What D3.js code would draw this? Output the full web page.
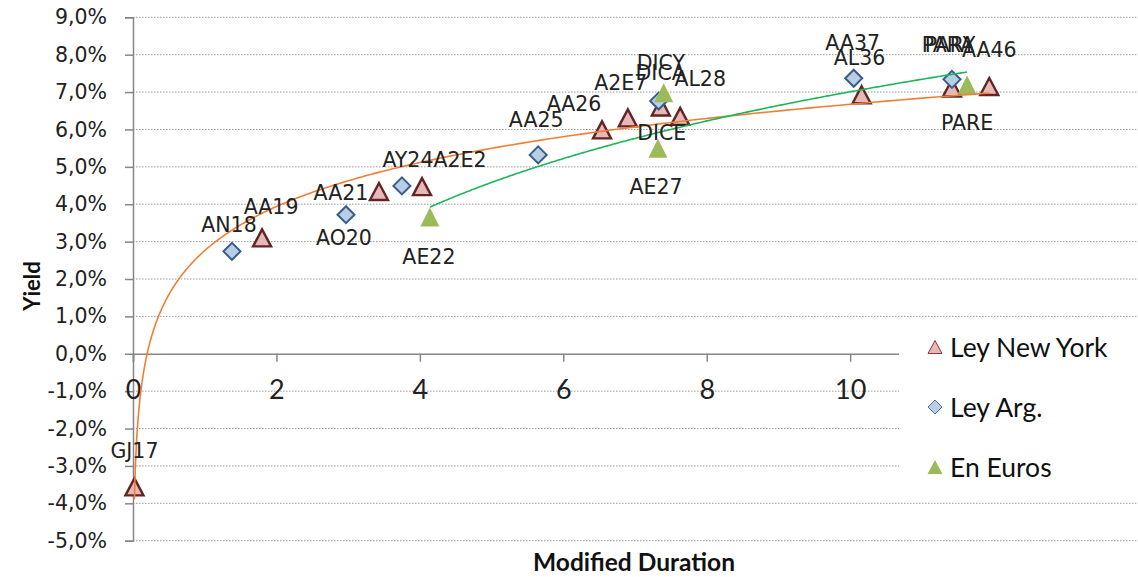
<!DOCTYPE html>
<html>
<head>
<meta charset="utf-8">
<script src="https://cdn.jsdelivr.net/npm/d3@7"></script>
<style>
  html, body { margin: 0; padding: 0; background: #fff; }
  svg { display: block; }
</style>
</head>
<body>
<div id="chart"></div>
<script>
// bonds: [name, modified duration, yield %]
var leyNewYork = [
  ["GJ17", 0.02, -3.56], ["AA19", 1.80, 3.10], ["AA21", 3.43, 4.34], ["A2E2", 4.03, 4.47],
  ["AA26", 6.54, 5.99], ["A2E7", 6.90, 6.31], ["DICY", 7.36, 6.60], ["AL28", 7.63, 6.35],
  ["AL36", 10.16, 6.93], ["PARY", 11.42, 7.11], ["AA46", 11.94, 7.15]
];
var leyArg = [
  ["AN18", 1.38, 2.74], ["AO20", 2.97, 3.72], ["AY24", 3.75, 4.49], ["AA25", 5.65, 5.32],
  ["DICA", 7.33, 6.76], ["AA37", 10.05, 7.37], ["PARA", 11.42, 7.34]
];
var enEuros = [
  ["AE22", 4.14, 3.66], ["AE27", 7.32, 5.50], ["DICE", 7.40, 6.98], ["PARE", 11.63, 7.19]
];
var yTicks = [-5, -4, -3, -2, -1, 0, 1, 2, 3, 4, 5, 6, 7, 8, 9];
var xTicks = [0, 2, 4, 6, 8, 10];
var legendNames = ["Ley New York", "Ley Arg.", "En Euros"];

// where each data label sits relative to its marker (px)
var labelOffset = {
  GJ17: [0, -36], AA19: [9, -31], AA21: [-38, 1], A2E2: [38, -27], AA26: [-28, -26],
  A2E7: [-7, -35], DICY: [0, -44], AL28: [20, -37], AL36: [-2, -37], PARY: [-2, -43],
  AA46: [0, -36], AN18: [-3, -26], AO20: [-2, 23], AY24: [6, -26], AA25: [-2, -35],
  DICA: [2, -28], AA37: [-1, -35], PARA: [-4, -34], AE22: [-1, 40], AE27: [-2, 39],
  DICE: [-2, 40], PARE: [0, 38]
};

var W = 1138, H = 577;
var x = d3.scaleLinear().domain([0, 14]).range([133, 1137]);
var y = d3.scaleLinear().domain([-5, 9]).range([540.7, 17.3]);

var svg = d3.select("#chart").append("svg").attr("width", W).attr("height", H);

var tri = function (w, h) {
  return "M0," + (-h / 2) + "L" + (w / 2) + "," + (h / 2) + "L" + (-w / 2) + "," + (h / 2) + "Z";
};
var dia = function (s) {
  return "M0," + (-s) + "L" + s + ",0L0," + s + "L" + (-s) + ",0Z";
};

var styles = [
  {d: tri(18, 17), fill: "#e6b9b8", stroke: "#632523", sw: 2.4, ld: tri(14, 13), lstroke: "#943634", lsw: 1},
  {d: dia(8.5), fill: "#b9cde5", stroke: "#385d8a", sw: 2, ld: dia(7), lstroke: "#4f6f9f", lsw: 1},
  {d: tri(19, 19), fill: "#9bbb59", stroke: "none", sw: 0, ld: tri(15, 14), lstroke: "none", lsw: 0}
];
var series = [leyNewYork, leyArg, enEuros];

// gridlines
svg.append("g").selectAll("line").data(yTicks.filter(function (t) { return t !== 0; })).enter()
  .append("line")
  .attr("x1", x(0)).attr("x2", x(14))
  .attr("y1", function (t) { return y(t); }).attr("y2", function (t) { return y(t); })
  .attr("stroke", "#9a9a9a").attr("stroke-width", 1).attr("stroke-dasharray", "1.5,1.5");

// y axis
var yAxis = svg.append("g").attr("transform", "translate(" + x(0) + ",0)")
  .call(d3.axisLeft(y).tickValues(yTicks).tickSize(8).tickPadding(18)
    .tickFormat(function (t) { return d3.format(".1f")(t).replace("−", "-").replace(".", ",") + "%"; }));
yAxis.select(".domain").attr("stroke", "#868686").attr("stroke-width", 1.5);
yAxis.selectAll(".tick line").attr("stroke", "#868686").attr("stroke-width", 1.5);
yAxis.selectAll("text").attr("font-family", "DejaVu Sans").attr("font-size", 20.5).attr("fill", "#222");

// x axis at y = 0 (runs the full plot width, the legend hides its right end)
var xAxis = svg.append("g").attr("transform", "translate(0," + y(0) + ")")
  .call(d3.axisBottom(x).tickValues(xTicks).tickSize(8).tickPadding(0).tickFormat(d3.format("d")));
xAxis.select(".domain").attr("stroke", "#868686").attr("stroke-width", 1.5);
xAxis.selectAll(".tick line").attr("stroke", "#868686").attr("stroke-width", 1.5);
xAxis.selectAll("text").attr("font-family", "Lato").attr("font-size", 27).attr("fill", "#222")
  .attr("dy", null).attr("y", 35).attr("dominant-baseline", "central");

// markers
series.forEach(function (s, i) {
  svg.append("g").selectAll("path").data(s).enter().append("path")
    .attr("d", styles[i].d)
    .attr("transform", function (p) { return "translate(" + x(p[1]) + "," + y(p[2]) + ")"; })
    .attr("fill", styles[i].fill).attr("stroke", styles[i].stroke).attr("stroke-width", styles[i].sw)
    .attr("stroke-linejoin", "miter");
});

// logarithmic trendlines fitted to the data (least squares on ln x)
var logFit = function (pts) {
  var lx = pts.map(function (p) { return Math.log(p[1]); }), ly = pts.map(function (p) { return p[2]; });
  var mx = d3.mean(lx), my = d3.mean(ly), sxx = 0, sxy = 0;
  lx.forEach(function (v, k) { sxx += (v - mx) * (v - mx); sxy += (v - mx) * (ly[k] - my); });
  var a = sxy / sxx;
  return {a: a, b: my - a * mx};
};
var trend = function (pts, color) {
  var f = logFit(pts);
  var x0 = d3.min(pts, function (p) { return p[1]; }), x1 = d3.max(pts, function (p) { return p[1]; });
  var xs = d3.range(0, 301).map(function (k) { return x0 * Math.pow(x1 / x0, k / 300); });
  svg.append("path")
    .attr("d", d3.line().x(function (v) { return x(v); }).y(function (v) { return y(f.a * Math.log(v) + f.b); })(xs))
    .attr("fill", "none").attr("stroke", color).attr("stroke-width", 1.6);
};
trend(leyNewYork, "#f07f35");
trend(enEuros, "#1cb559");

// data labels
series.forEach(function (s) {
  svg.append("g").selectAll("text").data(s).enter().append("text")
    .attr("x", function (p) { return x(p[1]) + labelOffset[p[0]][0]; })
    .attr("y", function (p) { return y(p[2]) + labelOffset[p[0]][1]; })
    .attr("text-anchor", "middle").attr("dominant-baseline", "central")
    .attr("font-family", "DejaVu Sans").attr("font-size", 20.5).attr("fill", "#222")
    .text(function (p) { return p[0]; });
});

// axis titles
svg.append("text").attr("x", 634).attr("y", 561)
  .attr("text-anchor", "middle").attr("dominant-baseline", "central")
  .attr("font-family", "Lato").attr("font-weight", "bold").attr("font-size", 25)
  .attr("textLength", 202).attr("lengthAdjust", "spacingAndGlyphs").attr("fill", "#111")
  .text("Modified Duration");
svg.append("text").attr("transform", "translate(31,286) rotate(-90)")
  .attr("text-anchor", "middle").attr("dominant-baseline", "central")
  .attr("font-family", "Lato").attr("font-weight", "bold").attr("font-size", 22).attr("fill", "#111")
  .text("Yield");

// legend over the plot area
var lg = svg.append("g");
lg.append("rect").attr("x", 899).attr("y", 325).attr("width", W - 899).attr("height", 170).attr("fill", "#fff");
var li = lg.selectAll("g").data(legendNames).enter().append("g")
  .attr("transform", function (d, i) { return "translate(935," + (347 + i * 60) + ")"; });
li.append("path").attr("d", function (d, i) { return styles[i].ld; })
  .attr("fill", function (d, i) { return styles[i].fill; })
  .attr("stroke", function (d, i) { return styles[i].lstroke; })
  .attr("stroke-width", function (d, i) { return styles[i].lsw; });
li.append("text").attr("x", 15).attr("y", 0).attr("dominant-baseline", "central")
  .attr("font-family", "Lato").attr("font-size", 26.5).attr("fill", "#111")
  .text(function (d) { return d; });
</script>
</body>
</html>
